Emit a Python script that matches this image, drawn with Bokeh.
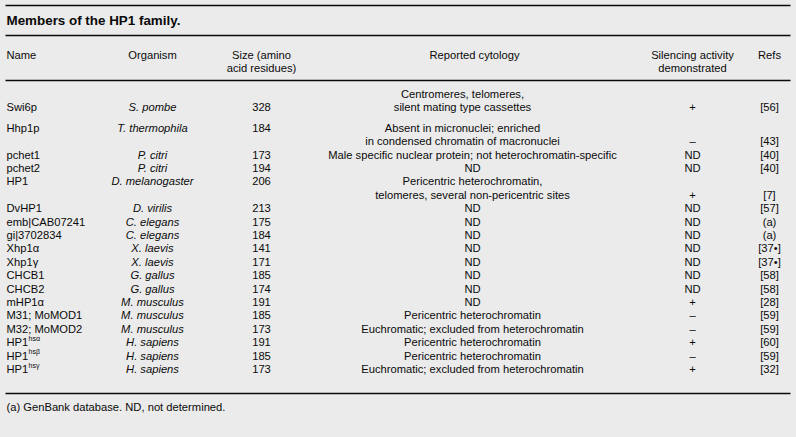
from bokeh.plotting import figure
from bokeh.models import Range1d, ColumnDataSource
from bokeh.core.properties import value
from bokeh.embed import file_html
from bokeh.resources import INLINE
from jinja2 import Template

# ---------------- data ----------------
table_title = "Members of the HP1 family."
headers = ["Name", "Organism", "Size (amino\nacid residues)", "Reported cytology",
           "Silencing activity\ndemonstrated", "Refs"]
footnote = "(a) GenBank database. ND, not determined."

names = ["Swi6p", "Hhp1p", "pchet1", "pchet2", "HP1", "DvHP1", "emb|CAB07241",
         "gi|3702834", "Xhp1\u03b1", "Xhp1\u03b3", "CHCB1", "CHCB2", "mHP1\u03b1",
         "M31; MoMOD1", "M32; MoMOD2", "HP1", "HP1", "HP1"]
name_sups = ["", "", "", "", "", "", "", "", "", "", "", "", "", "", "",
             "hs\u03b1", "hs\u03b2", "hs\u03b3"]
organisms = ["S. pombe", "T. thermophila", "P. citri", "P. citri", "D. melanogaster",
             "D. virilis", "C. elegans", "C. elegans", "X. laevis", "X. laevis",
             "G. gallus", "G. gallus", "M. musculus", "M. musculus", "M. musculus",
             "H. sapiens", "H. sapiens", "H. sapiens"]
sizes = [328, 184, 173, 194, 206, 213, 175, 184, 141, 171, 185, 174, 191, 185, 173,
         191, 185, 173]
cytology = [
    ["Centromeres, telomeres,", "silent mating type cassettes"],
    ["Absent in micronuclei; enriched", "in condensed chromatin of macronuclei"],
    ["Male specific nuclear protein; not heterochromatin-specific"],
    ["ND"],
    ["Pericentric heterochromatin,", "telomeres, several non-pericentric sites"],
    ["ND"], ["ND"], ["ND"], ["ND"], ["ND"], ["ND"], ["ND"], ["ND"],
    ["Pericentric heterochromatin"],
    ["Euchromatic; excluded from heterochromatin"],
    ["Pericentric heterochromatin"],
    ["Pericentric heterochromatin"],
    ["Euchromatic; excluded from heterochromatin"],
]
silencing = ["+", "\u2013", "ND", "ND", "+", "ND", "ND", "ND", "ND", "ND", "ND", "ND",
             "+", "\u2013", "\u2013", "+", "\u2013", "+"]
refs = ["[56]", "[43]", "[40]", "[40]", "[7]", "[57]", "(a)", "(a)", "[37\u2022]",
        "[37\u2022]", "[58]", "[58]", "[28]", "[59]", "[59]", "[60]", "[59]", "[32]"]
# which line of a multi-line row carries the name / organism / size
name_line = [1, 0, 0, 0, 0] + [0] * 13

# ---------------- layout ----------------
W, H = 796, 437
BG = "#ebebeb"
INK = "#0a0a0a"
FONT = value("Liberation Sans")
FS = "11.2px"

X_NAME, X_ORG, X_SIZE, X_SIL, X_REF = 6, 152, 261, 692, 769
X_CYTO_BLOCK, X_CYTO = 462, 472
LEFT, RIGHT = 5, 790
RULES = [5, 35, 80, 393]
TITLE_Y = 20
HEAD_Y = [54, 67]
FIRST_Y = 93
STEP = 13.4
GAP_AFTER_FIRST = 7.5
FOOT_Y = 406

p = figure(width=W, height=H, output_backend="svg", toolbar_location=None,
           x_range=Range1d(0, W), y_range=Range1d(H, 0),
           x_axis_type=None, y_axis_type=None, min_border=0,
           background_fill_color=BG, border_fill_color=BG, outline_line_color=None)
p.grid.visible = False

# horizontal rules
p.segment(x0=[LEFT] * len(RULES), x1=[RIGHT] * len(RULES), y0=RULES, y1=RULES,
          line_color=INK, line_width=1.4)

def txt(xs, ys, texts, align="left", size=FS, style="normal"):
    src = ColumnDataSource(dict(x=xs, y=ys, t=texts))
    p.text(x="x", y="y", text="t", source=src, text_font=FONT, text_font_size=size,
           text_font_style=style, text_align=align, text_baseline="middle",
           text_color=INK)

# title
txt([X_NAME], [TITLE_Y], [table_title], size="13.4px", style="bold")

# headers
hx = [X_NAME, X_ORG, X_SIZE, 474, X_SIL, X_REF]
haligns = ["left", "center", "center", "center", "center", "center"]
for hxv, al, h in zip(hx, haligns, headers):
    parts = h.split("\n")
    txt([hxv] * len(parts), HEAD_Y[:len(parts)], parts, align=al)

# body rows
name_y, cyto_x, cyto_y, cyto_t, last_y = [], [], [], [], []
y = FIRST_Y
for i, lines in enumerate(cytology):
    ys = [y + k * STEP for k in range(len(lines))]
    name_y.append(ys[name_line[i]])
    last_y.append(ys[-1])
    cx = X_CYTO_BLOCK if i < 2 else X_CYTO
    for k, line in enumerate(lines):
        cyto_x.append(cx)
        cyto_y.append(ys[k])
        cyto_t.append(line)
    y = ys[-1] + STEP
    if i == 0:
        y += GAP_AFTER_FIRST

n = len(names)
txt([X_NAME] * n, name_y, names)
txt([X_ORG] * n, name_y, organisms, align="center", style="italic")
txt([X_SIZE] * n, name_y, [str(s) for s in sizes], align="center")
txt(cyto_x, cyto_y, cyto_t, align="center")
txt([X_SIL] * n, last_y, silencing, align="center")
txt([X_REF] * n, last_y, refs, align="center")

# superscripts for HP1^hs
sx, sy, st = [], [], []
for i, s in enumerate(name_sups):
    if s:
        sx.append(X_NAME + 22)
        sy.append(name_y[i] - 4)
        st.append(s)
txt(sx, sy, st, size="7px")

# footnote
txt([X_NAME], [FOOT_Y], [footnote])

tmpl = Template("""{% extends base %}
{% block preamble %}<style>html, body { margin: 0; padding: 0; overflow: hidden; background: #ebebeb; }</style>{% endblock %}""")

open("out.html", "w").write(file_html(p, INLINE, template=tmpl))
